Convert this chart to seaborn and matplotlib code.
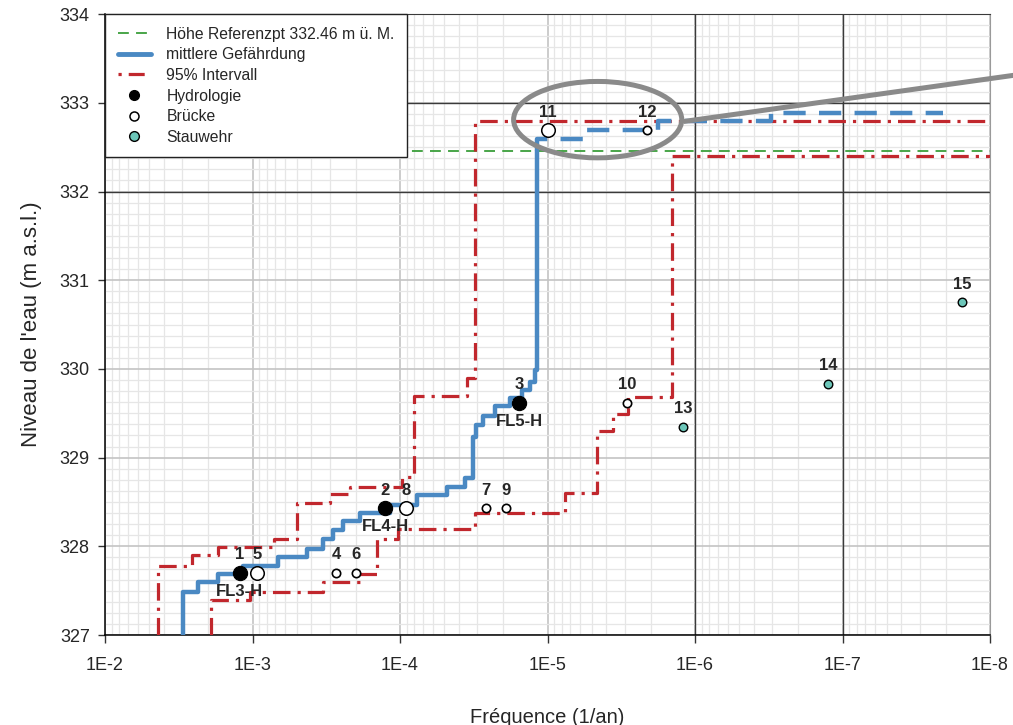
import numpy as np
import matplotlib
matplotlib.use("Agg")
import matplotlib.pyplot as plt
import seaborn as sns
from matplotlib.lines import Line2D
from matplotlib.patches import Ellipse
from matplotlib.ticker import FixedLocator, LogLocator, MultipleLocator

# ==========================================
# Data
# ==========================================
ref_level = 332.46

# step curves: frequency of each jump, level after the jump (drawn with steps-pre)
mean_freq = [2.96e-3, 2.34e-3, 1.71e-3, 1.16e-3, 6.72e-4, 4.27e-4, 3.33e-4, 2.85e-4,
             2.43e-4, 1.87e-4, 1.17e-4, 7.67e-5, 4.80e-5, 3.62e-5, 3.20e-5, 3.05e-5,
             2.74e-5, 2.27e-5, 1.80e-5, 1.49e-5, 1.31e-5, 1.22e-5, 1.18e-5, 1.18e-5]
mean_level = [327.00, 327.49, 327.60, 327.69, 327.78, 327.88, 327.97, 328.08,
              328.19, 328.29, 328.38, 328.47, 328.58, 328.67, 328.77, 329.23,
              329.37, 329.47, 329.58, 329.67, 329.76, 329.85, 329.99, 332.46]

# extrapolated part of the mean curve (above the reference height)
ext_freq = [1.18e-5, 5.57e-6, 1.78e-6, 3.05e-7, 2.08e-8]
ext_level = [332.46, 332.59, 332.69, 332.79, 332.89]

# 95% interval
upper_freq = [4.37e-3, 2.57e-3, 1.71e-3, 7.15e-4, 4.99e-4, 2.98e-4, 2.18e-4, 9.69e-5,
              8.04e-5, 3.51e-5, 3.10e-5, 1e-8]
upper_level = [327.00, 327.78, 327.90, 327.99, 328.08, 328.49, 328.59, 328.67,
               328.78, 329.70, 329.90, 332.80]
lower_freq = [1.91e-3, 1.04e-3, 3.33e-4, 1.87e-4, 1.43e-4, 1.03e-4, 3.10e-5, 7.61e-6,
              4.62e-6, 3.60e-6, 2.84e-6, 1.43e-6, 1e-8]
lower_level = [327.00, 327.39, 327.49, 327.60, 327.69, 328.08, 328.20, 328.38,
               328.60, 329.30, 329.49, 329.68, 332.40]

# points
hydro_id = ["1", "2", "3"]
hydro_name = ["FL3-H", "FL4-H", "FL5-H"]
hydro_freq = [1.22e-3, 1.26e-4, 1.56e-5]
hydro_level = [327.70, 328.43, 329.62]

bridge_id = ["4", "5", "6", "7", "8", "9", "10", "11", "12"]
bridge_freq = [2.72e-4, 9.3e-4, 1.99e-4, 2.61e-5, 9.1e-5, 1.91e-5, 2.89e-6, 9.9e-6, 2.11e-6]
bridge_level = [327.70, 327.70, 327.70, 328.43, 328.43, 328.43, 329.62, 332.69, 332.69]
bridge_large = [False, True, False, False, True, False, False, True, False]

weir_id = ["13", "14", "15"]
weir_freq = [1.2e-6, 1.25e-7, 1.55e-8]
weir_level = [329.35, 329.83, 330.75]

decades = [1e-2, 1e-3, 1e-4, 1e-5, 1e-6, 1e-7, 1e-8]
decade_labels = ["1E-2", "1E-3", "1E-4", "1E-5", "1E-6", "1E-7", "1E-8"]

# ==========================================
# Style
# ==========================================
sns.set_style("white")
plt.rcParams["font.family"] = ["Liberation Sans", "DejaVu Sans"]

BLUE = "#4a89c3"
RED = "#c1272d"
GREEN = "#3a9e3a"
TEAL = "#6cc6b9"
RED_DASH = (0, (5.5, 2.2, 1, 2.2))

fig = plt.figure(figsize=(10.13, 7.25), dpi=100)
ax = fig.add_axes([0.1037, 0.124, 0.8736, 0.8566])
ax.set_xscale("log")

# ---- grid ----
ax.xaxis.set_major_locator(FixedLocator(decades))
ax.xaxis.set_minor_locator(LogLocator(base=10, subs=np.arange(2, 10), numticks=30))
ax.yaxis.set_major_locator(MultipleLocator(1))
ax.yaxis.set_minor_locator(MultipleLocator(0.125))
ax.set_axisbelow(True)
ax.grid(which="minor", color="#e6e6e6", lw=0.9)
ax.grid(which="major", color="#c4c4c4", lw=1.2)
for v in [1e-6, 1e-7]:
    ax.axvline(v, color="#3a3a3a", lw=1.0, zorder=0.8)
for h in [332, 333]:
    ax.axhline(h, color="#3a3a3a", lw=1.0, zorder=0.8)

# ---- curves ----
ax.axhline(ref_level, color=GREEN, lw=1.3, ls=(0, (6, 4)), zorder=2)

sns.lineplot(x=upper_freq, y=upper_level, ax=ax, sort=False, estimator=None,
             drawstyle="steps-pre", color=RED, lw=2.3, ls=RED_DASH, zorder=3)
sns.lineplot(x=lower_freq, y=lower_level, ax=ax, sort=False, estimator=None,
             drawstyle="steps-pre", color=RED, lw=2.3, ls=RED_DASH, zorder=3)
sns.lineplot(x=mean_freq, y=mean_level, ax=ax, sort=False, estimator=None,
             drawstyle="steps-pre", color=BLUE, lw=3.2, zorder=4)
sns.lineplot(x=ext_freq, y=ext_level, ax=ax, sort=False, estimator=None,
             drawstyle="steps-pre", color=BLUE, lw=3.2, ls=(0, (5, 3)), zorder=4)

# ---- points ----
big = bridge_large
sns.scatterplot(x=[f for f, b in zip(bridge_freq, big) if b],
                y=[l for l, b in zip(bridge_level, big) if b],
                ax=ax, s=95, color="white", edgecolor="black", linewidth=1.1, zorder=5)
sns.scatterplot(x=[f for f, b in zip(bridge_freq, big) if not b],
                y=[l for l, b in zip(bridge_level, big) if not b],
                ax=ax, s=36, color="white", edgecolor="black", linewidth=1.2, zorder=5)
sns.scatterplot(x=hydro_freq, y=hydro_level, ax=ax, s=105, color="black",
                edgecolor="black", linewidth=0.8, zorder=5)
sns.scatterplot(x=weir_freq, y=weir_level, ax=ax, s=38, color=TEAL,
                edgecolor="black", linewidth=1.0, zorder=5)

# ---- labels ----
for ids, fs, ls in [(hydro_id, hydro_freq, hydro_level),
                    (bridge_id, bridge_freq, bridge_level),
                    (weir_id, weir_freq, weir_level)]:
    for i, f, l in zip(ids, fs, ls):
        ax.annotate(i, (f, l), xytext=(0, 13), textcoords="offset points",
                    ha="center", va="center", fontsize=12, fontweight="bold", zorder=7)
for n, f, l in zip(hydro_name, hydro_freq, hydro_level):
    ax.annotate(n, (f, l), xytext=(0, -13.5), textcoords="offset points",
                ha="center", va="center", fontsize=12, fontweight="bold", zorder=7)

# ---- highlight ellipse around points 11 / 12 ----
lo, hi = np.log10(1e-2), np.log10(1e-8)
fc = np.sqrt(bridge_freq[7] * bridge_freq[8])
cx = (np.log10(fc) - lo) / (hi - lo)
cy = (bridge_level[7] + 0.12 - 327) / 7
ax.add_patch(Ellipse((cx, cy), 0.19, 0.123, transform=ax.transAxes, fill=False,
                     ec="#8a8a8a", lw=3.6, zorder=8))
ax.plot([cx + 0.097, 1.07], [cy - 0.003, cy + 0.08], transform=ax.transAxes,
        color="#8a8a8a", lw=3.6, clip_on=False, zorder=8, solid_capstyle="butt")

# ---- axes ----
ax.set_xlim(1e-2, 1e-8)
ax.set_ylim(327, 334)
ax.set_xticks(decades)
ax.set_xticklabels(decade_labels, fontsize=13)
ax.set_yticks(range(327, 335))
ax.set_yticklabels([str(v) for v in range(327, 335)], fontsize=13)
ax.tick_params(which="minor", length=0)
ax.tick_params(axis="x", which="major", direction="out", length=6, width=1,
               color="#333333", pad=10, bottom=True)
ax.tick_params(axis="y", which="major", direction="out", length=5, width=1,
               color="#333333", pad=6, left=True)
ax.set_xlabel("Fréquence (1/an)", fontsize=14.5, labelpad=24)
ax.set_ylabel("Niveau de l'eau (m a.s.l.)", fontsize=16, labelpad=13)

for side in ["left", "bottom"]:
    ax.spines[side].set_color("black")
    ax.spines[side].set_linewidth(1.1)
ax.spines["top"].set_color("#3a3a3a")
ax.spines["right"].set_color("#9a9a9a")

# ---- legend ----
handles = [
    Line2D([], [], color=GREEN, lw=1.3, ls=(0, (6, 4))),
    Line2D([], [], color=BLUE, lw=3.5),
    Line2D([], [], color=RED, lw=2.3, ls=(0, (1, 2.2, 5, 2.2))),
    Line2D([], [], ls="None", marker="o", markersize=7, markerfacecolor="black",
           markeredgecolor="black"),
    Line2D([], [], ls="None", marker="o", markersize=6.5, markerfacecolor="white",
           markeredgecolor="black", markeredgewidth=1.1),
    Line2D([], [], ls="None", marker="o", markersize=7, markerfacecolor=TEAL,
           markeredgecolor="black", markeredgewidth=1.0),
]
labels = ["Höhe Referenzpt 332.46 m ü. M.", "mittlere Gefährdung", "95% Intervall",
          "Hydrologie", "Brücke", "Stauwehr"]
leg = ax.legend(handles, labels, loc="upper left", bbox_to_anchor=(0, 1),
                borderaxespad=0, frameon=True, fancybox=False, framealpha=1,
                edgecolor="#222222", fontsize=11.3, handlelength=2.1, handletextpad=1.0,
                labelspacing=0.36, borderpad=0.8)
leg.get_frame().set_linewidth(1.0)
leg.set_zorder(9)

fig.savefig("out.png", dpi=100)
